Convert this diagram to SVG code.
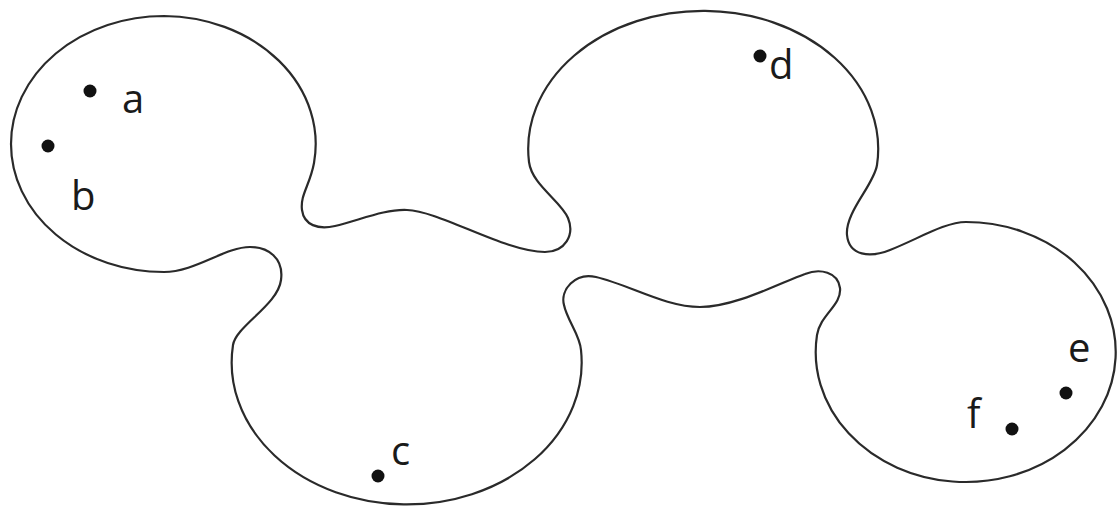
<svg xmlns="http://www.w3.org/2000/svg" width="1120" height="511" viewBox="0 0 1120 511">
<style>
.curve{fill:none;stroke:#2a2a2a;stroke-width:2.2;stroke-linejoin:round}
.dot{fill:#111}
.lbl{font-family:"Open Sans","Noto Sans","Liberation Sans",sans-serif;font-size:40px;fill:#1a1a1a}
</style>
<rect width="1120" height="511" fill="#fff"/>
<g id="region">
<path class="curve" d="M164,16 A153,128 0 0 1 314,163 C310,185 300,195 302,210 C304,225 318,230 335,226 C360,220 385,209 407,210 C440,211 505,252 545,252 C565,252 575,235 568,218 C561,201 532,185 529,162 A175,138 0 1 1 877,165 C874,185 845,212 847,235 C849,256 870,258 890,250 C918,239 945,222 966,222 A150,130 0 1 1 817,335 C820,315 842,305 840,288 C838,272 820,268 805,274 C780,283 735,307 700,307 C665,307 630,285 596,277 C575,272 560,290 564,305 C567,320 580,335 581,350 A175,142 0 1 1 233,345 C236,326 278,305 281,280 C284,258 268,247 250,247 C225,247 195,272 164,272 A153,128 0 0 1 11,144 A153,128 0 0 1 164,16 Z"/>
</g>
<g id="node-a"><circle class="dot" cx="90" cy="91" r="6.5"/><text class="lbl" x="122" y="113">a</text></g>
<g id="node-b"><circle class="dot" cx="48" cy="146" r="6.5"/><text class="lbl" x="71" y="210">b</text></g>
<g id="node-c"><circle class="dot" cx="378" cy="476" r="6.5"/><text class="lbl" x="391" y="465">c</text></g>
<g id="node-d"><circle class="dot" cx="760" cy="56" r="6.5"/><text class="lbl" x="769" y="79">d</text></g>
<g id="node-e"><circle class="dot" cx="1066" cy="393" r="6.5"/><text class="lbl" x="1068" y="362">e</text></g>
<g id="node-f"><circle class="dot" cx="1012" cy="429" r="6.5"/><text class="lbl" x="967" y="428">f</text></g>
<g id="connectors"/>
</svg>
